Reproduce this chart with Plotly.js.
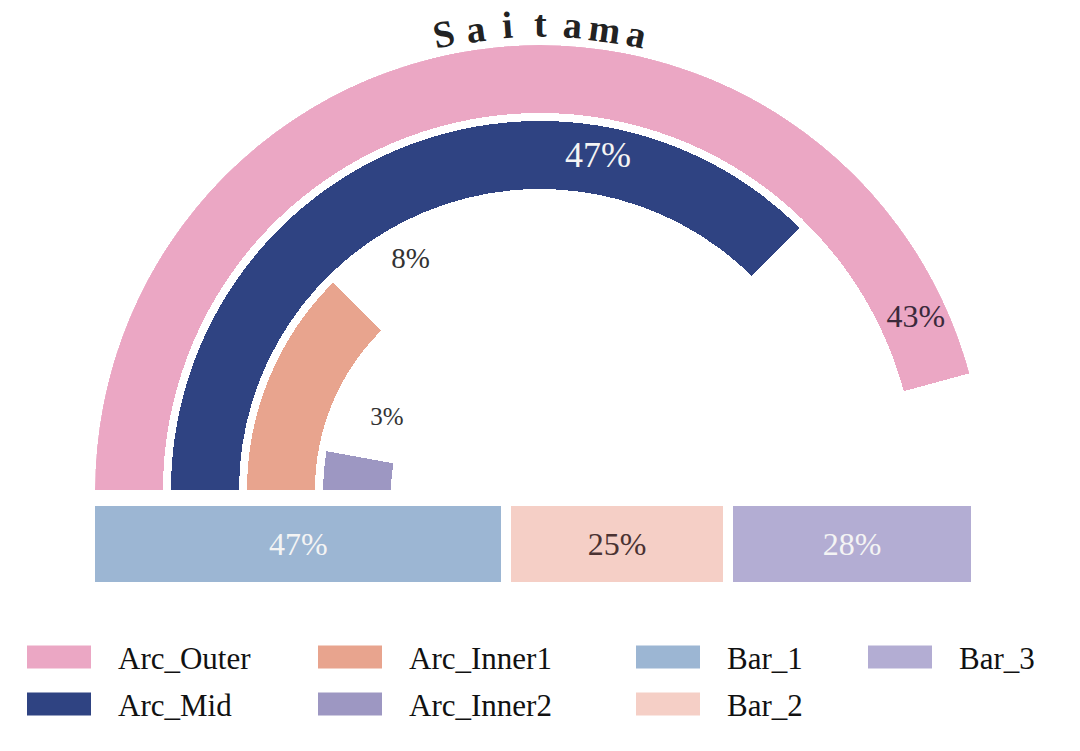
<!DOCTYPE html>
<html>
<head>
<meta charset="utf-8">
<script src="https://cdn.plot.ly/plotly-3.0.1.min.js"></script>
<style>
  html, body { margin: 0; padding: 0; background: #fff; }
  #chart { width: 1080px; height: 751px; }
</style>
</head>
<body>
<div id="chart"></div>
<script>
// data
const chartTitle = 'Saitama';
const arcNames = ['Arc_Outer', 'Arc_Mid', 'Arc_Inner1', 'Arc_Inner2'];
const arcValues = [43, 47, 8, 3];             // label values (%)
const arcSpans = [164.8, 134.7, 45.1, 10.3];  // angular extent of each arc (deg)
const barNames = ['Bar_1', 'Bar_2', 'Bar_3'];
const barValues = [47, 25, 28];

const arcColors = ['#EBA7C4', '#2F4382', '#E8A48E', '#9D97C2'];
const barColors = ['#9CB6D3', '#F5CFC6', '#B3ADD3'];
const arcTextColors = ['#3B2A3B', '#F4F4F4', '#333333', '#333333'];
const arcTextSizes = [32, 36, 29, 25];
const barTextColors = ['#F4F4F4', '#4A3232', '#F4F4F4'];

const W = 1080, H = 751;
const px = x => x / W;
const py = y => 1 - y / H;
const serif = "'Liberation Serif', 'Times New Roman', serif";

// ring geometry (radial units = pixels), centre of the half circle
const cx = 540, cy = 490;
const R = 445, pitch = 76, thick = 68;
const ringOuter = arcNames.map((_, i) => R - pitch * i);
const ringBase = ringOuter.map(r => r - thick);
// label placement tweaks
const labelDTheta = [-9.3, -34.8, 15.4, 14.7];
const labelDR = [2, 2, 4, -14];

const traces = [];

arcNames.forEach((name, i) => {
  traces.push({
    type: 'barpolar',
    name: name,
    r: [thick],
    base: [ringBase[i]],
    theta: [arcSpans[i] / 2],
    width: [arcSpans[i]],
    marker: { color: arcColors[i], line: { width: 0 } },
    showlegend: false,
    hoverinfo: 'skip'
  });
});

traces.push({
  type: 'scatterpolar',
  mode: 'text',
  r: arcNames.map((_, i) => ringBase[i] + thick / 2 + labelDR[i]),
  theta: arcSpans.map((s, i) => s + labelDTheta[i]),
  text: arcValues.map(v => v + '%'),
  textposition: 'middle center',
  textfont: { family: serif, size: arcTextSizes, color: arcTextColors },
  showlegend: false,
  hoverinfo: 'skip'
});

barNames.forEach((name, i) => {
  traces.push({
    type: 'bar',
    orientation: 'h',
    name: name,
    x: [barValues[i]],
    y: [0],
    width: 1,
    text: [barValues[i] + '%'],
    textposition: 'inside',
    insidetextanchor: 'middle',
    textangle: 0,
    textfont: { family: serif, size: 32, color: barTextColors[i] },
    marker: { color: barColors[i], line: { color: '#ffffff', width: 10 } },
    showlegend: false,
    hoverinfo: 'skip'
  });
});

// curved title, one letter per annotation along an arc above the rings
const annotations = [];
const titleR = 466, titleStep = 4.0;
const letters = chartTitle.split('');
letters.forEach((ch, i) => {
  const a = 90 + ((letters.length - 1) / 2 - i) * titleStep;
  const rad = a * Math.PI / 180;
  annotations.push({
    xref: 'paper', yref: 'paper',
    x: px(cx + titleR * Math.cos(rad)),
    y: py(cy - titleR * Math.sin(rad)),
    xanchor: 'center', yanchor: 'middle',
    text: '<b>' + ch + '</b>',
    textangle: 90 - a,
    showarrow: false,
    font: { family: serif, size: 38, color: '#222222' }
  });
});

// legend: two rows, column-major order
const legendNames = arcNames.concat(barNames);
const legendColors = arcColors.concat(barColors);
const swatchX = [27, 318, 636, 868];
const rowY = [657, 704];
const shapes = [];
legendNames.forEach((name, k) => {
  const col = Math.floor(k / 2), row = k % 2;
  const x0 = swatchX[col], yc = rowY[row];
  shapes.push({
    type: 'rect', xref: 'paper', yref: 'paper',
    x0: px(x0), x1: px(x0 + 64), y0: py(yc + 11.5), y1: py(yc - 11.5),
    fillcolor: legendColors[k], line: { width: 0 }
  });
  annotations.push({
    xref: 'paper', yref: 'paper',
    x: px(x0 + 89), y: py(yc + 1),
    xanchor: 'left', yanchor: 'middle',
    text: name, showarrow: false,
    font: { family: serif, size: 31, color: '#111111' }
  });
});

const layout = {
  width: W, height: H,
  autosize: false,
  margin: { l: 0, r: 0, t: 0, b: 0 },
  paper_bgcolor: '#ffffff',
  plot_bgcolor: 'rgba(0,0,0,0)',
  hovermode: false,
  barmode: 'stack',
  polar: {
    domain: { x: [px(cx - R), px(cx + R)], y: [py(cy), py(cy - R)] },
    sector: [0, 180],
    hole: 0,
    bgcolor: 'rgba(0,0,0,0)',
    radialaxis: { visible: false, range: [0, R] },
    angularaxis: { visible: false, rotation: 180, direction: 'clockwise' }
  },
  xaxis: { domain: [px(90), px(976)], range: [0, 100], visible: false, fixedrange: true },
  yaxis: { domain: [py(587), py(501)], range: [-0.5, 0.5], visible: false, fixedrange: true },
  shapes: shapes,
  annotations: annotations
};

Plotly.newPlot('chart', traces, layout, { displayModeBar: false, staticPlot: true });
</script>
</body>
</html>
